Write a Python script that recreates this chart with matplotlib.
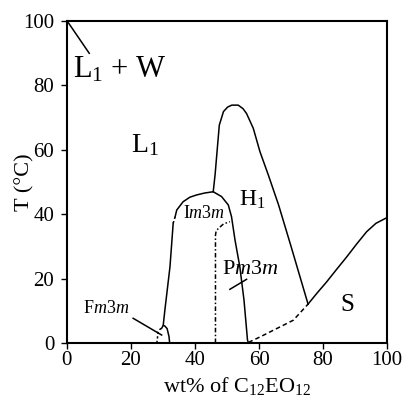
import matplotlib
matplotlib.use('Agg')
from matplotlib import pyplot as plt

plt.rcParams['font.family'] = 'Liberation Serif'
plt.rcParams['mathtext.fontset'] = 'custom'
plt.rcParams['mathtext.rm'] = 'Liberation Serif'
plt.rcParams['mathtext.it'] = 'Liberation Serif:italic'

# phase boundaries (wt%, T in degC)
h1_x = [45.7, 46.3, 46.8, 47.6, 48.9, 50.2, 51.5, 53.5, 55.0, 56.1, 58.2, 60.3, 62.9, 66.1, 70.0, 75.3]
h1_y = [47.0, 52.5, 58.4, 67.7, 71.9, 73.3, 73.9, 73.9, 72.8, 71.3, 66.7, 59.4, 52.2, 42.9, 30.0, 12.1]

im3m_left_x = [30.1, 30.6, 32.2, 33.2]
im3m_left_y = [5.6, 10.2, 23.7, 37.2]
im3m_gap_x = [33.2, 33.8]
im3m_gap_y = [37.2, 39.2]
im3m_x = [33.8, 34.3, 36.3, 38.4, 40.5, 43.0, 45.7, 48.3, 50.4, 51.4, 52.5, 54.0, 55.3, 56.4, 56.7]
im3m_y = [39.2, 41.3, 43.9, 45.3, 46.0, 46.6, 47.0, 45.5, 42.9, 39.3, 32.0, 23.7, 13.4, 0.9, 0.0]

fm3m_x = [29.6, 30.1, 30.6, 31.3, 31.9, 32.1]
fm3m_y = [4.6, 5.5, 5.3, 4.5, 2.0, 0.0]
fm3m_dash_x = [28.1, 28.5, 29.1, 29.6]
fm3m_dash_y = [0.0, 3.5, 4.3, 4.6]

pm3m_x = [46.4, 46.4, 46.6, 47.3, 48.9, 50.9]
pm3m_y = [0.0, 33.5, 34.8, 35.6, 37.0, 37.7]

s_dash_x = [56.7, 60.5, 64.5, 70.7, 75.3]
s_dash_y = [0.2, 2.0, 4.0, 7.1, 12.1]
s_x = [75.3, 78.0, 81.1, 84.3, 87.4, 90.5, 93.6, 96.5, 100.0]
s_y = [12.1, 15.4, 19.0, 23.0, 26.8, 30.8, 34.6, 37.2, 39.0]

fig = plt.figure(figsize=(4.05, 3.98), dpi=100)
ax = fig.add_axes([0.165, 0.138, 0.791, 0.809])

lw = 1.1
ax.plot(h1_x, h1_y, color='black', lw=lw)
ax.plot(im3m_left_x, im3m_left_y, color='black', lw=lw)
ax.plot(im3m_gap_x, im3m_gap_y, color='black', lw=lw, ls=(0, (1.5, 1.5)))
ax.plot(im3m_x, im3m_y, color='black', lw=lw)
ax.plot(fm3m_x, fm3m_y, color='black', lw=lw)
ax.plot(fm3m_dash_x, fm3m_dash_y, color='black', lw=lw, ls=(0, (1.5, 1.5)))
ax.plot(pm3m_x, pm3m_y, color='black', lw=lw, ls=(0, (3, 1.5, 1, 1.5)))
ax.plot(s_dash_x, s_dash_y, color='black', lw=lw, ls=(0, (3, 2)))
ax.plot(s_x, s_y, color='black', lw=lw)

# pointer lines
ax.plot([0.4, 7.0], [99.6, 90.0], color='black', lw=lw)
ax.plot([20.7, 29.6], [7.7, 2.5], color='black', lw=lw)
ax.plot([50.9, 56.1], [16.7, 19.8], color='black', lw=lw)

ax.text(16.5, 85, r'L$_1$ + W', fontsize=22, ha='center', va='center')
ax.text(24.4, 61.5, r'L$_1$', fontsize=20, ha='center', va='center')
ax.text(58.0, 44.4, r'H$_1$', fontsize=17, ha='center', va='center')
ax.text(42.8, 40.2, r'I$\mathit{m}$3$\mathit{m}$', fontsize=13, ha='center', va='center')
ax.text(57.2, 22.9, r'P$\mathit{m}$3$\mathit{m}$', fontsize=16, ha='center', va='center')
ax.text(12.2, 10.6, r'F$\mathit{m}$3$\mathit{m}$', fontsize=13, ha='center', va='center')
ax.text(87.4, 11.8, 'S', fontsize=18, ha='center', va='center')

ax.set_xlim(0, 100)
ax.set_ylim(0, 100)
ax.set_xticks([0, 20, 40, 60, 80, 100])
ax.set_yticks([0, 20, 40, 60, 80, 100])
ax.tick_params(labelsize=15, direction='out', length=4, width=1)
ax.tick_params(axis='x', pad=2)
ax.tick_params(axis='y', pad=5)
for sp in ax.spines.values():
    sp.set_linewidth(1.5)
ax.set_xlabel(r'wt% of C$_{12}$EO$_{12}$', fontsize=16)
ax.xaxis.set_label_coords(0.53, -0.1)
ax.set_ylabel('T (\u00b0C)', fontsize=16)
ax.yaxis.set_label_coords(-0.10, 0.5)

plt.savefig('out.png', dpi=100)
plt.close()
